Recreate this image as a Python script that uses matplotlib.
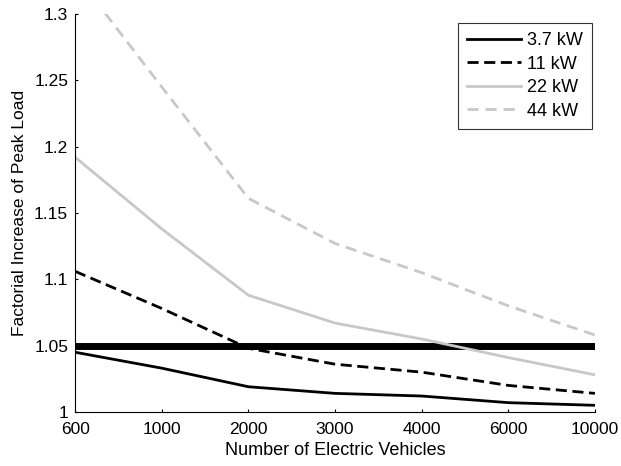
import matplotlib.pyplot as plt

plt.rcParams['font.family'] = ['Liberation Sans', 'DejaVu Sans']

# categories on x axis (equally spaced)
ev_counts = ['600', '1000', '2000', '3000', '4000', '6000', '10000']
x = list(range(len(ev_counts)))

# factorial increase of peak load per charging power
load_3_7kw = [1.045, 1.033, 1.019, 1.014, 1.012, 1.007, 1.005]
load_11kw = [1.106, 1.078, 1.048, 1.036, 1.030, 1.020, 1.014]
load_22kw = [1.192, 1.138, 1.088, 1.067, 1.055, 1.041, 1.028]
load_44kw = [1.330, 1.245, 1.161, 1.127, 1.105, 1.080, 1.058]
threshold = 1.05

gray = '#c8c8c8'

fig = plt.figure(figsize=(6.21, 4.66), dpi=100)
ax = fig.add_axes([0.121, 0.116, 0.837, 0.854])

ax.plot(x, [threshold] * len(x), color='black', lw=5, solid_capstyle='butt', zorder=1)
ax.plot(x, load_3_7kw, color='black', lw=2, label='3.7 kW')
ax.plot(x, load_11kw, color='black', lw=2, ls=(0, (4, 2)), label='11 kW')
ax.plot(x, load_22kw, color=gray, lw=2, label='22 kW')
ax.plot(x, load_44kw, color=gray, lw=2, ls=(0, (4, 2.5)), label='44 kW')

ax.set_xlim(0, len(x) - 1)
ax.set_ylim(1, 1.3)
ax.set_xticks(x)
ax.set_xticklabels(ev_counts)
ax.set_yticks([1, 1.05, 1.1, 1.15, 1.2, 1.25, 1.3])
ax.set_yticklabels(['1', '1.05', '1.1', '1.15', '1.2', '1.25', '1.3'])
ax.tick_params(direction='in', length=2.5, labelsize=12.5, width=0.8)
ax.tick_params(axis='x', pad=7.5)
ax.tick_params(axis='y', pad=5)

ax.spines['top'].set_visible(False)
ax.spines['right'].set_visible(False)

ax.set_xlabel('Number of Electric Vehicles', fontsize=13, labelpad=3)
ax.set_ylabel('Factorial Increase of Peak Load', fontsize=12.5, labelpad=5)

leg = ax.legend(loc='upper right', bbox_to_anchor=(0.994, 0.977), fontsize=13,
                frameon=True, fancybox=False, edgecolor='black',
                handlelength=2.95, handletextpad=0.35, labelspacing=0.36,
                borderpad=0.5, borderaxespad=0)
leg.get_frame().set_linewidth(0.8)

fig.savefig('out.png', dpi=100)
